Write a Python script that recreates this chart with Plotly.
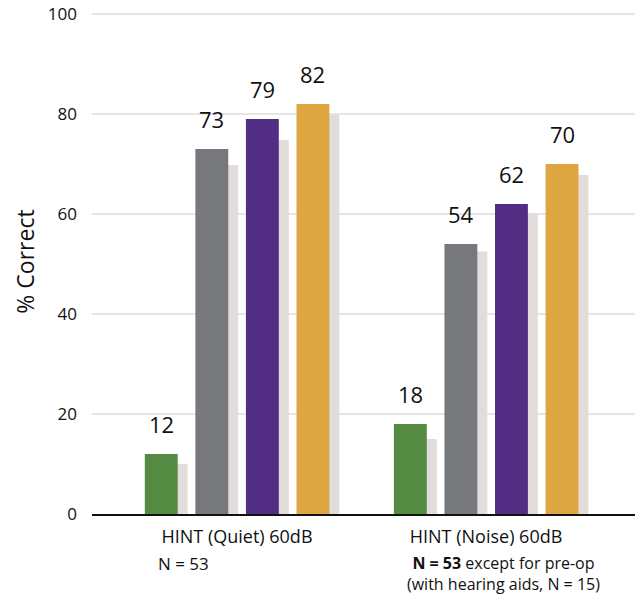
import plotly.graph_objects as go

# Test conditions on the category axis
categories = ["HINT (Quiet) 60dB", "HINT (Noise) 60dB"]

# Mean % correct per interval (labelled bars)
series_names = ["Pre-op", "Interval 1", "Interval 2", "Interval 3"]
pre_op = [12, 18]
interval_1 = [73, 54]
interval_2 = [79, 62]
interval_3 = [82, 70]

# Comparison values drawn as the pale bars behind each labelled bar
ref_pre_op = [10, 15]
ref_interval_1 = [69.8, 52.5]
ref_interval_2 = [74.8, 60.2]
ref_interval_3 = [79.8, 67.8]

y_ticks = [0, 20, 40, 60, 80, 100]

main_values = [pre_op, interval_1, interval_2, interval_3]
ref_values = [ref_pre_op, ref_interval_1, ref_interval_2, ref_interval_3]
colors = ["#548a42", "#77787b", "#522d84", "#dda640"]
shadow_color = "#e2dcda"

bar_w = 0.132
pitch = 0.203
first_offset = -0.37
shadow_shift = 0.04

text_font = "Open Sans, Noto Sans, sans-serif"

fig = go.Figure()

# pale comparison bars first so the coloured bars sit on top
for i, vals in enumerate(ref_values):
    fig.add_trace(go.Bar(
        x=categories, y=vals, name=series_names[i] + " (ref)",
        offset=first_offset + i * pitch + shadow_shift, width=bar_w,
        marker=dict(color=shadow_color, line=dict(width=0)),
        showlegend=False, hoverinfo="skip",
    ))

for i, vals in enumerate(main_values):
    fig.add_trace(go.Bar(
        x=categories, y=vals, name=series_names[i],
        offset=first_offset + i * pitch, width=bar_w,
        marker=dict(color=colors[i], line=dict(width=0)),
        showlegend=False,
    ))

annotations = []
for i, vals in enumerate(main_values):
    for j, v in enumerate(vals):
        annotations.append(dict(
            x=j + first_offset + i * pitch + bar_w / 2, y=v,
            xref="x", yref="y", text=str(v), showarrow=False,
            yanchor="bottom", yshift=13,
            font=dict(family=text_font, size=22, color="#111111"),
        ))

# axis title
annotations.append(dict(
    x=-0.125, y=0.5, xref="paper", yref="paper", text="% Correct",
    textangle=-90, showarrow=False, xanchor="center", yanchor="middle",
    font=dict(family=text_font, size=23, color="#111111"),
))

# sample size notes under each category
annotations.append(dict(
    x=0, y=0, xref="x", yref="paper", text="N = 53", showarrow=False,
    xanchor="left", yanchor="middle", xshift=-81, yshift=-49,
    font=dict(family=text_font, size=17, color="#111111"),
))
annotations.append(dict(
    x=1, y=0, xref="x", yref="paper",
    text=("<b>N = 53</b> <span style='font-size:16px'>except for pre-op</span>"
          "<br>(with hearing aids, N = 15)"),
    showarrow=False, xanchor="center", yanchor="middle", align="center",
    xshift=17, yshift=-59,
    font=dict(family=text_font, size=16, color="#111111"),
))

fig.update_layout(
    width=637, height=594,
    margin=dict(l=92, r=2, t=9, b=80),
    barmode="overlay",
    plot_bgcolor="white", paper_bgcolor="white",
    annotations=annotations,
    xaxis=dict(
        type="category", range=[-0.582, 1.598],
        showline=True, linecolor="#111111", linewidth=2,
        ticks="", showgrid=False, zeroline=False,
        tickfont=dict(family=text_font, size=18, color="#111111"),
        ticklabelstandoff=5,
    ),
    yaxis=dict(
        range=[0, 101], tickvals=y_ticks,
        showgrid=True, gridcolor="rgba(0,0,0,0.10)", gridwidth=2,
        zeroline=False, showline=False, ticks="",
        layer="above traces",
        tickfont=dict(family=text_font, size=17, color="#111111"),
        ticklabelstandoff=14,
    ),
)

fig.write_html("out.html")
